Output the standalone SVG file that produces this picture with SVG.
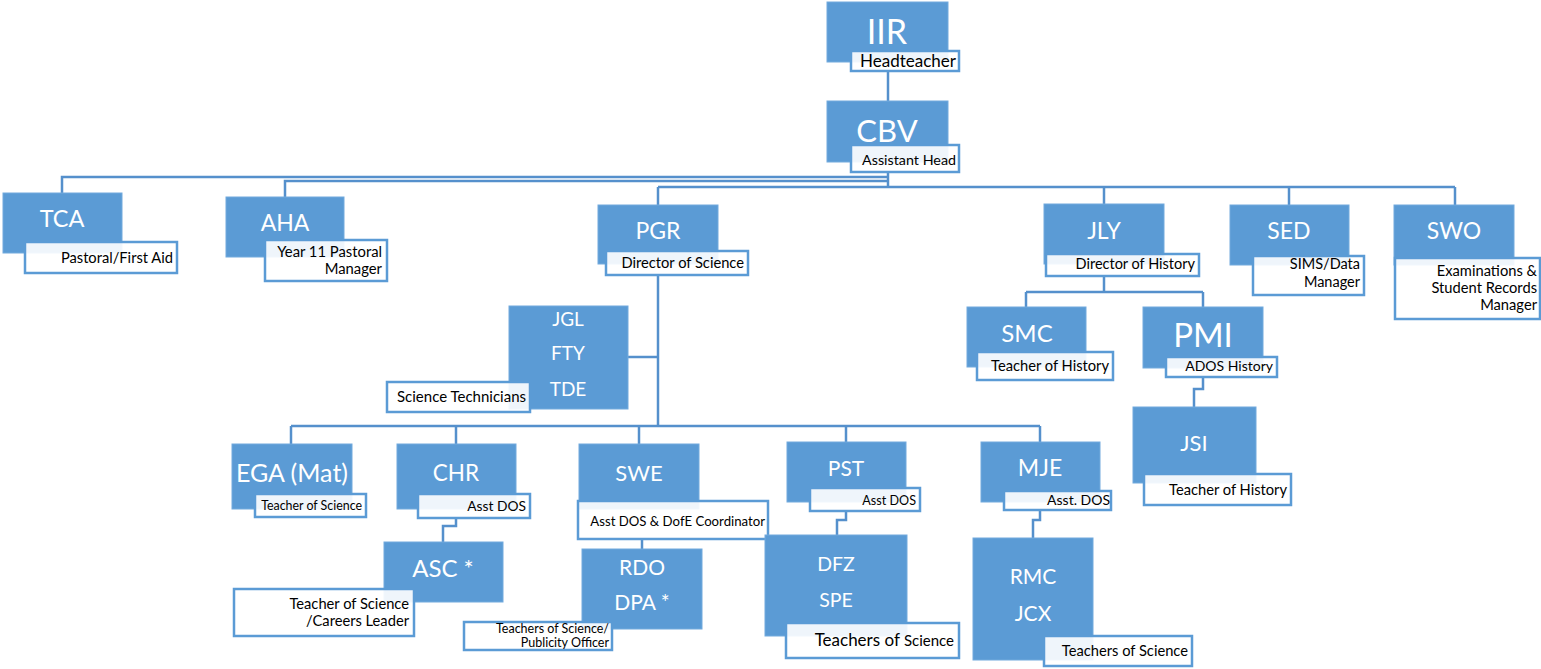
<svg xmlns="http://www.w3.org/2000/svg" width="1541" height="669" viewBox="0 0 1541 669">
<style>
.bx{fill:#5B9BD5;stroke:#72AADD;stroke-width:1}
.lb{fill:#ffffff;fill-opacity:0.9;stroke:#5B9BD5;stroke-width:2.5}
.cn{fill:none;stroke:#5590CC;stroke-width:2.5}
.nm{font-family:Lato,"Liberation Sans",sans-serif;fill:#ffffff;text-anchor:middle}
.tx{font-family:Lato,"Liberation Sans",sans-serif;fill:#000000;text-anchor:end}
</style>
<rect width="1541" height="669" fill="#ffffff"/>
<g id="connectors">
<path class="cn" d="M888,71 V101"/>
<path class="cn" d="M888,173 V187"/>
<path class="cn" d="M888,177 H62 V193"/>
<path class="cn" d="M888,181 H285 V197"/>
<path class="cn" d="M658,187 H1455"/>
<path class="cn" d="M658,187 V205"/>
<path class="cn" d="M1104,187 V204"/>
<path class="cn" d="M1289,187 V205"/>
<path class="cn" d="M1455,187 V205"/>
<path class="cn" d="M658,275 V426"/>
<path class="cn" d="M628,357 H658"/>
<path class="cn" d="M291,426 H1040"/>
<path class="cn" d="M291,426 V444"/>
<path class="cn" d="M456,426 V444"/>
<path class="cn" d="M639,426 V444"/>
<path class="cn" d="M846,426 V442"/>
<path class="cn" d="M1040,426 V442"/>
<path class="cn" d="M1104,276 V292"/>
<path class="cn" d="M1026,292 H1203"/>
<path class="cn" d="M1026,292 V307"/>
<path class="cn" d="M1203,292 V307"/>
<path class="cn" d="M1203,377 V389 H1194 V407"/>
<path class="cn" d="M456,518 V526 H443 V542"/>
<path class="cn" d="M642,539 V549"/>
<path class="cn" d="M846,511 V520 H837 V535"/>
<path class="cn" d="M1040,510 V520 H1033 V538"/>
</g>
<g id="node-IIR">
<rect class="bx" x="827" y="2" width="121" height="60"/>
<text class="nm" x="887" y="44" font-size="34">IIR</text>
<rect class="lb" x="851" y="51" width="108" height="20"/>
<text class="tx" x="956" y="67" font-size="17">Headteacher</text>
</g>
<g id="node-CBV">
<rect class="bx" x="827" y="101" width="121" height="61"/>
<text class="nm" x="887" y="142" font-size="31">CBV</text>
<rect class="lb" x="851" y="145" width="108" height="27"/>
<text class="tx" x="956" y="165" font-size="14.3">Assistant Head</text>
</g>
<g id="node-TCA">
<rect class="bx" x="3" y="193" width="119" height="60"/>
<text class="nm" x="62" y="227" font-size="23.5">TCA</text>
<rect class="lb" x="25" y="242" width="152" height="31"/>
<text class="tx" x="173" y="263" font-size="14.7">Pastoral/First Aid</text>
</g>
<g id="node-AHA">
<rect class="bx" x="226" y="197" width="118" height="60"/>
<text class="nm" x="285" y="231" font-size="23">AHA</text>
<rect class="lb" x="265" y="240" width="122" height="41"/>
<text class="tx" x="382" y="257" font-size="14.8">Year 11 Pastoral</text>
<text class="tx" x="382" y="274" font-size="14.8">Manager</text>
</g>
<g id="node-PGR">
<rect class="bx" x="598" y="205" width="120" height="59"/>
<text class="nm" x="658" y="239" font-size="23">PGR</text>
<rect class="lb" x="606" y="251" width="142" height="24"/>
<text class="tx" x="744" y="268" font-size="14.7">Director of Science</text>
</g>
<g id="node-JGL">
<rect class="bx" x="509" y="306" width="119" height="103"/>
<text class="nm" x="568" y="326" font-size="19">JGL</text>
<text class="nm" x="568" y="360" font-size="19">FTY</text>
<text class="nm" x="568" y="396" font-size="19">TDE</text>
<rect class="lb" x="387" y="382" width="143" height="30"/>
<text class="tx" x="526" y="402" font-size="15">Science Technicians</text>
</g>
<g id="node-JLY">
<rect class="bx" x="1044" y="204" width="120" height="60"/>
<text class="nm" x="1104" y="239" font-size="23">JLY</text>
<rect class="lb" x="1046" y="254" width="153" height="22"/>
<text class="tx" x="1195" y="269" font-size="14.5">Director of History</text>
</g>
<g id="node-SED">
<rect class="bx" x="1230" y="205" width="119" height="60"/>
<text class="nm" x="1289" y="239" font-size="23">SED</text>
<rect class="lb" x="1253" y="256" width="111" height="39"/>
<text class="tx" x="1360" y="269" font-size="14.5">SIMS/Data</text>
<text class="tx" x="1360" y="287" font-size="14.5">Manager</text>
</g>
<g id="node-SWO">
<rect class="bx" x="1394" y="205" width="120" height="60"/>
<text class="nm" x="1454" y="239" font-size="23">SWO</text>
<rect class="lb" x="1395" y="258" width="145" height="61"/>
<text class="tx" x="1537" y="276" font-size="14.7">Examinations &amp;</text>
<text class="tx" x="1537" y="293" font-size="14.7">Student Records</text>
<text class="tx" x="1537" y="310" font-size="14.7">Manager</text>
</g>
<g id="node-SMC">
<rect class="bx" x="967" y="307" width="119" height="60"/>
<text class="nm" x="1027" y="342" font-size="24">SMC</text>
<rect class="lb" x="977" y="352" width="136" height="28"/>
<text class="tx" x="1109" y="371" font-size="14.7">Teacher of History</text>
</g>
<g id="node-PMI">
<rect class="bx" x="1143" y="307" width="120" height="61"/>
<text class="nm" x="1203" y="347" font-size="33">PMI</text>
<rect class="lb" x="1166" y="357" width="111" height="20"/>
<text class="tx" x="1273" y="371" font-size="14">ADOS History</text>
</g>
<g id="node-JSI">
<rect class="bx" x="1133" y="407" width="123" height="76"/>
<text class="nm" x="1194" y="451" font-size="22">JSI</text>
<rect class="lb" x="1144" y="474" width="147" height="31"/>
<text class="tx" x="1287" y="495" font-size="14.7">Teacher of History</text>
</g>
<g id="node-EGA">
<rect class="bx" x="232" y="444" width="120" height="65"/>
<text class="nm" x="292" y="482" font-size="25">EGA (Mat)</text>
<rect class="lb" x="255" y="494" width="111" height="23"/>
<text class="tx" x="362" y="510" font-size="12.4">Teacher of Science</text>
</g>
<g id="node-CHR">
<rect class="bx" x="397" y="444" width="119" height="65"/>
<text class="nm" x="456" y="481" font-size="22.5">CHR</text>
<rect class="lb" x="418" y="494" width="112" height="24"/>
<text class="tx" x="526" y="511" font-size="13.8">Asst DOS</text>
</g>
<g id="node-SWE">
<rect class="bx" x="579" y="444" width="120" height="65"/>
<text class="nm" x="639" y="481" font-size="22">SWE</text>
<rect class="lb" x="578" y="501" width="190" height="38"/>
<text class="tx" x="765" y="526" font-size="13.2">Asst DOS &amp; DofE Coordinator</text>
</g>
<g id="node-PST">
<rect class="bx" x="787" y="442" width="119" height="60"/>
<text class="nm" x="846" y="476" font-size="21">PST</text>
<rect class="lb" x="810" y="488" width="110" height="23"/>
<text class="tx" x="916" y="505" font-size="12.6">Asst DOS</text>
</g>
<g id="node-MJE">
<rect class="bx" x="981" y="442" width="119" height="60"/>
<text class="nm" x="1040" y="476" font-size="23">MJE</text>
<rect class="lb" x="1004" y="491" width="107" height="19"/>
<text class="tx" x="1110" y="505" font-size="14">Asst. DOS</text>
</g>
<g id="node-ASC">
<rect class="bx" x="384" y="542" width="119" height="60"/>
<text class="nm" x="443" y="577" font-size="24">ASC *</text>
<rect class="lb" x="234" y="589" width="180" height="47"/>
<text class="tx" x="409" y="609" font-size="14.7">Teacher of Science</text>
<text class="tx" x="409" y="626" font-size="14.7">/Careers Leader</text>
</g>
<g id="node-RDO">
<rect class="bx" x="582" y="549" width="120" height="80"/>
<text class="nm" x="642" y="575" font-size="21">RDO</text>
<text class="nm" x="642" y="610" font-size="21">DPA *</text>
<rect class="lb" x="464" y="622" width="148" height="28"/>
<text class="tx" x="609" y="633" font-size="12.5">Teachers of Science/</text>
<text class="tx" x="609" y="647" font-size="12.5">Publicity Officer</text>
</g>
<g id="node-DFZ">
<rect class="bx" x="765" y="535" width="142" height="101"/>
<text class="nm" x="836" y="571" font-size="19.5">DFZ</text>
<text class="nm" x="836" y="607" font-size="19.5">SPE</text>
<rect class="lb" x="786" y="623" width="173" height="35"/>
<text class="tx" x="954" y="646"><tspan font-size="17">Teachers of </tspan><tspan font-size="15">Science</tspan></text>
</g>
<g id="node-RMC">
<rect class="bx" x="973" y="538" width="120" height="122"/>
<text class="nm" x="1033" y="584" font-size="21">RMC</text>
<text class="nm" x="1033" y="621" font-size="21">JCX</text>
<rect class="lb" x="1044" y="636" width="148" height="30"/>
<text class="tx" x="1188" y="656" font-size="14.7">Teachers of Science</text>
</g>
</svg>
